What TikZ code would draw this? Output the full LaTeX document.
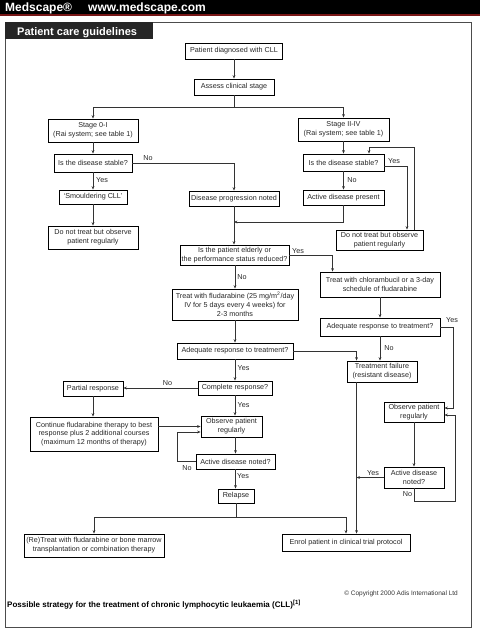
\documentclass[tikz,border=0pt]{standalone}
\usepackage{fontspec}
\setmainfont{Liberation Sans}
\usetikzlibrary{arrows.meta,calc}
\definecolor{hdrred}{RGB}{120,22,22}
\definecolor{tabgray}{RGB}{38,38,38}
\tikzset{
  box/.style={draw=black, line width=0.9pt, inner sep=1pt, align=center, text=black!85,
    font=\fontsize{7.2}{8.8}\selectfont},
  arr/.style={-{Stealth[length=3.4pt,width=2.8pt]}, line width=0.6pt, draw=black!80},
  ln/.style={line width=0.6pt, draw=black!80},
  lbl/.style={font=\fontsize{7.2}{8.8}\selectfont, inner sep=0pt, text=black!85}
}
\begin{document}
\begin{tikzpicture}[x=1pt,y=-1pt]
\useasboundingbox (0,0) rectangle (480,629);
% header
\fill[black] (0,0) rectangle (480,13.8);
\fill[hdrred] (0,13.8) rectangle (480,15.6);
\node[anchor=base west, text=white, inner sep=0, font=\bfseries\fontsize{12}{14}\selectfont] (hA) at (5,11.5) {Medscape®};
\node[anchor=base west, text=white, inner sep=0, font=\bfseries\fontsize{12}{14}\selectfont] (hB) at (88,11.5) {www.medscape.com};
% frame
\draw[line width=1pt, black!70] (5,22) rectangle (471,627);
\fill[tabgray] (5,22) rectangle (153,39);
\node[anchor=base west, text=white, inner sep=0, font=\bfseries\fontsize{11}{13}\selectfont] (tab) at (17,35.5) {Patient care guidelines};
% nodes
\node[box, minimum width=97, minimum height=16] (diag) at (234,51) {Patient diagnosed with CLL};
\node[box, minimum width=80, minimum height=16] (assess) at (234,87) {Assess clinical stage};
\node[box, minimum width=90, minimum height=23] (stageA) at (93,130.5) {Stage 0-I\\(Rai system; see table 1)};
\node[box, minimum width=91, minimum height=23] (stageB) at (343.5,129.5) {Stage II-IV\\(Rai system; see table 1)};
\node[box, minimum width=78, minimum height=18] (stabA) at (93,163) {Is the disease stable?};
\node[box, minimum width=81, minimum height=17] (stabB) at (343.5,162.5) {Is the disease stable?};
\node[box, minimum width=68, minimum height=14] (smould) at (93,197) {`Smouldering CLL'};
\node[box, minimum width=90, minimum height=15] (prog) at (234,198.5) {Disease progression noted};
\node[box, minimum width=81, minimum height=15] (active1) at (343.5,197.5) {Active disease present};
\node[box, minimum width=90, minimum height=23] (dntA) at (93,237.5) {Do not treat but observe\\patient regularly};
\node[box, minimum width=87, minimum height=20] (dntB) at (379.5,240) {Do not treat but observe\\patient regularly};
\node[box, minimum width=109, minimum height=20] (elderly) at (234.5,255) {Is the patient elderly or\\the performance status reduced?};
\node[box, minimum width=120, minimum height=25] (chlor) at (380,284.5) {Treat with chlorambucil or a 3-day\\schedule of fludarabine};
\node[box, minimum width=126, minimum height=31] (fluda) at (235,304.5) {Treat with fludarabine (25 mg/m\textsuperscript{2}/day\\IV for 5 days every 4 weeks) for\\2-3 months};
\node[box, minimum width=120, minimum height=18] (adeqB) at (380,327) {Adequate response to treatment?};
\node[box, minimum width=116, minimum height=16] (adeqA) at (235,351) {Adequate response to treatment?};
\node[box, minimum width=70, minimum height=21] (fail) at (382,371.5) {Treatment failure\\(resistant disease)};
\node[box, minimum width=74, minimum height=14] (complete) at (235,388) {Complete response?};
\node[box, minimum width=60, minimum height=15] (partial) at (93,388.5) {Partial response};
\node[box, minimum width=128, minimum height=34] (cont) at (94,434) {Continue fludarabine therapy to best\\response plus 2 additional courses\\(maximum 12 months of therapy)};
\node[box, minimum width=61, minimum height=21] (obsA) at (231.5,426.5) {Observe patient\\regularly};
\node[box, minimum width=60, minimum height=20] (obsB) at (414,412) {Observe patient\\regularly};
\node[box, minimum width=79, minimum height=15] (actA) at (235.5,461.5) {Active disease noted?};
\node[box, minimum width=60, minimum height=21] (actB) at (414,477.5) {Active disease\\noted?};
\node[box, minimum width=36, minimum height=14] (relapse) at (236,496) {Relapse};
\node[box, minimum width=140, minimum height=23] (retreat) at (94,545.5) {(Re)Treat with fludarabine or bone marrow\\transplantation or combination therapy};
\node[box, minimum width=128, minimum height=17] (enrol) at (346,542.5) {Enrol patient in clinical trial protocol};
% helper coordinates
\coordinate (split1) at (234,107.5);
\coordinate (j1) at (234,222);
\coordinate (tf) at ($(fail.south west)+(10,0)$);
\coordinate (split2) at (236,517);
% connectors
\draw[arr] (diag) -- (assess);
\draw[ln] (assess.south) -- (split1);
\draw[arr] (split1) -| (stageA.north);
\draw[arr] (split1) -| (stageB.north);
\draw[arr] (stageA) -- (stabA);
\draw[arr] (stabA) -- (smould);
\draw[arr] (smould) -- (dntA);
\draw[arr] (stabA.east) -| (prog.north);
\draw[arr] (stageB) -- (stabB);
\draw[arr] ($(stabB.east)+(0,4)$) -| ($(dntB.north)+(27.5,0)$);
\draw[arr] ($(dntB.north)+(34.5,0)$) -- ++(0,-82) -| ($(stabB.north)+(25.5,0)$);
\draw[arr] (stabB) -- (active1);
\draw[arr] (active1.south) |- (j1);
\draw[arr] (prog.south) -- (prog.south |- elderly.north);
\draw[arr] (elderly.east) -| ($(chlor.north west)+(13,0)$);
\draw[arr] (elderly.south -| fluda.north) -- (fluda.north);
\draw[arr] (chlor) -- (adeqB);
\draw[arr] (fluda) -- (adeqA);
\draw[arr] (adeqA.east) -| ($(fail.north west)+(10,0)$);
\draw[arr] (adeqB.south) -- (adeqB.south |- fail.north);
\draw[arr] (adeqB.east) -- ++(13,0) |- ($(obsB.east)+(0,-4)$);
\draw[arr] (tf) -- (tf |- enrol.north);
\draw[arr] (adeqA) -- (complete);
\draw[arr] (complete.west) -- (complete.west -| partial.east);
\draw[arr] (complete.south) -- (complete.south |- obsA.north);
\draw[arr] (partial.south) -- (partial.south |- cont.north);
\draw[arr] (cont.east |- obsA.west) -- (obsA.west);
\draw[arr] (actA.north |- obsA.south) -- (actA.north);
\draw[arr] (actA.west) -- ++(-18,0) |- ($(obsA.west)+(0,5.5)$);
\draw[arr] (actA.south) -- (actA.south |- relapse.north);
\draw[ln] (relapse.south) -- (split2);
\draw[arr] (split2) -| (retreat.north);
\draw[arr] (split2) -| (enrol.north);
\draw[arr] (obsB) -- (actB);
\draw[arr] (actB.west) -- (actB.west -| tf);
\draw[arr] (actB.south) -- ++(0,13) -- ++(41,0) |- ($(obsB.east)+(0,3)$);
% labels
\node[lbl] (l1) at (148,158) {No};
\node[lbl] (l2) at (102,180.5) {Yes};
\node[lbl] (l3) at (394,161.5) {Yes};
\node[lbl] (l4) at (352,180.5) {No};
\node[lbl] (l5) at (298,251) {Yes};
\node[lbl] (l6) at (242,277) {No};
\node[lbl] (l7) at (452,320.5) {Yes};
\node[lbl] (l8) at (389,348) {No};
\node[lbl] (l9) at (243.5,368.5) {Yes};
\node[lbl] (l10) at (167.5,383.5) {No};
\node[lbl] (l11) at (243.5,405) {Yes};
\node[lbl] (l12) at (187,468.5) {No};
\node[lbl] (l13) at (243,476.5) {Yes};
\node[lbl] (l14) at (373,473.5) {Yes};
\node[lbl] (l15) at (407.5,494.5) {No};
% footer
\node[anchor=base east, inner sep=0, text=black!80, font=\fontsize{6.5}{8}\selectfont] (copy) at (458,595) {© Copyright 2000 Adis International Ltd};
\node[anchor=base west, inner sep=0, font=\bfseries\fontsize{8}{10}\selectfont] (cap) at (7,607.5) {Possible strategy for the treatment of chronic lymphocytic leukaemia (CLL)\textsuperscript{[1]}};
\end{tikzpicture}
\end{document}
